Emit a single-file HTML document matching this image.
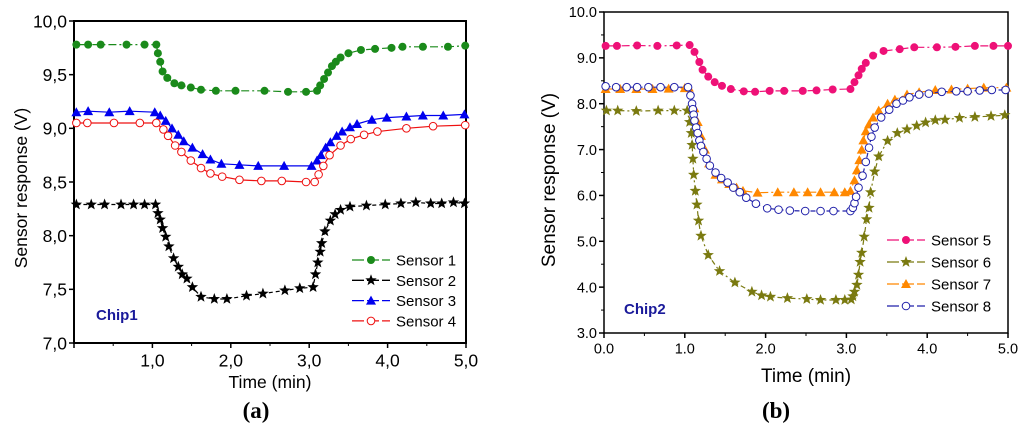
<!DOCTYPE html>
<html><head><meta charset="utf-8"><style>
body{margin:0;background:#fff;width:1024px;height:431px;overflow:hidden;font-family:"Liberation Sans",sans-serif}
svg text{font-family:"Liberation Sans",sans-serif}
</style></head><body>
<svg id="c" width="1024" height="431"></svg>
<script>
// ---- Chart (a) data ----
const s1t=[0.03,0.18,0.34,0.67,0.90,1.05,1.07,1.10,1.13,1.19,1.28,1.37,1.49,1.62,1.81,2.06,2.43,2.73,2.96,3.10,3.14,3.19,3.24,3.29,3.34,3.40,3.50,3.66,3.84,4.05,4.19,4.45,4.77,4.99];
const s1v=[9.78,9.78,9.78,9.78,9.78,9.78,9.70,9.62,9.53,9.47,9.42,9.40,9.38,9.36,9.35,9.35,9.35,9.34,9.34,9.35,9.40,9.46,9.52,9.58,9.62,9.66,9.70,9.73,9.74,9.75,9.76,9.76,9.76,9.77];
const s2t=[0.03,0.22,0.39,0.60,0.76,0.90,1.04,1.07,1.10,1.13,1.17,1.21,1.27,1.33,1.38,1.44,1.51,1.62,1.79,1.95,2.20,2.41,2.69,2.88,3.05,3.08,3.11,3.14,3.16,3.20,3.27,3.33,3.40,3.52,3.73,3.97,4.17,4.36,4.55,4.69,4.84,4.98];
const s2v=[8.29,8.29,8.29,8.29,8.29,8.29,8.29,8.21,8.15,8.07,7.99,7.90,7.79,7.71,7.64,7.60,7.52,7.43,7.41,7.41,7.44,7.46,7.49,7.51,7.52,7.64,7.75,7.85,7.93,8.04,8.14,8.20,8.24,8.27,8.28,8.29,8.30,8.31,8.30,8.30,8.31,8.30];
const s3t=[0.03,0.18,0.45,0.71,1.03,1.10,1.17,1.25,1.33,1.40,1.51,1.64,1.74,1.88,2.11,2.35,2.68,3.03,3.10,3.15,3.21,3.27,3.35,3.42,3.52,3.61,3.80,3.99,4.24,4.45,4.71,4.98];
const s3v=[9.15,9.16,9.15,9.16,9.15,9.12,9.07,9.00,8.94,8.88,8.82,8.76,8.71,8.67,8.66,8.65,8.65,8.65,8.70,8.75,8.82,8.87,8.93,8.97,9.01,9.04,9.08,9.10,9.11,9.12,9.12,9.13];
const s4t=[0.03,0.17,0.51,0.84,1.05,1.14,1.20,1.29,1.37,1.49,1.62,1.74,1.89,2.11,2.39,2.65,2.96,3.07,3.12,3.18,3.26,3.40,3.53,3.70,3.87,4.24,4.58,4.99];
const s4v=[9.05,9.05,9.05,9.05,9.05,8.99,8.93,8.84,8.78,8.70,8.63,8.58,8.55,8.52,8.51,8.51,8.50,8.50,8.57,8.65,8.75,8.84,8.90,8.94,8.97,9.00,9.02,9.03];
// ---- Chart (b) data ----
const s5t=[0.02,0.16,0.41,0.66,0.90,1.06,1.12,1.18,1.22,1.29,1.37,1.46,1.57,1.73,1.87,2.05,2.23,2.46,2.63,2.83,3.05,3.10,3.15,3.19,3.24,3.33,3.46,3.66,3.84,4.12,4.35,4.59,4.82,5.0];
const s5v=[9.26,9.26,9.27,9.26,9.27,9.28,9.13,8.91,8.74,8.59,8.47,8.39,8.32,8.27,8.26,8.28,8.28,8.28,8.29,8.31,8.32,8.47,8.62,8.76,8.89,9.05,9.15,9.19,9.23,9.23,9.24,9.26,9.26,9.26];
const s6t=[0.03,0.17,0.40,0.67,0.87,1.03,1.06,1.08,1.09,1.10,1.11,1.13,1.15,1.17,1.20,1.29,1.43,1.62,1.83,1.95,2.06,2.27,2.51,2.68,2.87,2.98,3.06,3.08,3.10,3.13,3.15,3.17,3.19,3.22,3.25,3.28,3.30,3.35,3.40,3.51,3.63,3.75,3.87,3.98,4.10,4.22,4.40,4.59,4.79,4.96];
const s6v=[7.85,7.85,7.84,7.85,7.85,7.85,7.60,7.36,7.10,6.80,6.45,6.10,5.80,5.45,5.12,4.70,4.35,4.10,3.90,3.82,3.79,3.76,3.74,3.72,3.72,3.72,3.73,3.80,3.90,4.05,4.27,4.55,4.75,5.10,5.48,5.73,6.07,6.52,6.85,7.19,7.36,7.44,7.52,7.59,7.64,7.65,7.69,7.71,7.73,7.75];
const s7t=[0.02,0.2,0.4,0.6,0.8,1.0,1.05,1.12,1.16,1.20,1.25,1.30,1.38,1.46,1.55,1.64,1.72,1.90,2.15,2.35,2.52,2.68,2.85,2.98,3.05,3.10,3.13,3.16,3.19,3.21,3.24,3.28,3.33,3.40,3.51,3.60,3.75,3.90,4.10,4.30,4.50,4.70,4.98];
const s7v=[8.32,8.32,8.32,8.32,8.33,8.34,8.35,7.9,7.6,7.3,7.0,6.7,6.45,6.35,6.25,6.17,6.10,6.06,6.07,6.07,6.07,6.07,6.07,6.07,6.10,6.33,6.55,6.77,7.00,7.20,7.40,7.55,7.70,7.85,8.00,8.09,8.20,8.25,8.30,8.31,8.33,8.35,8.35];
const s8t=[0.02,0.15,0.28,0.41,0.55,0.70,0.87,1.04,1.07,1.09,1.10,1.11,1.12,1.14,1.16,1.18,1.20,1.23,1.27,1.31,1.38,1.45,1.53,1.60,1.68,1.76,1.88,2.02,2.16,2.30,2.49,2.68,2.84,3.05,3.08,3.10,3.12,3.15,3.20,3.24,3.28,3.31,3.35,3.43,3.53,3.62,3.70,3.78,3.90,4.02,4.18,4.36,4.50,4.65,4.80,4.97];
const s8v=[8.38,8.36,8.36,8.36,8.36,8.36,8.36,8.36,8.18,8.00,7.88,7.76,7.63,7.48,7.36,7.20,7.08,6.95,6.80,6.65,6.50,6.38,6.28,6.17,6.07,5.95,5.82,5.72,5.69,5.67,5.66,5.66,5.66,5.66,5.73,5.83,5.97,6.17,6.43,6.73,7.04,7.28,7.48,7.70,7.87,8.00,8.07,8.14,8.20,8.22,8.26,8.27,8.27,8.29,8.30,8.30];
const yTicksA=["7,0","7,5","8,0","8,5","9,0","9,5","10,0"];
const xTicksA=["","1,0","2,0","3,0","4,0","5,0"];
const yTicksB=["3.0","4.0","5.0","6.0","7.0","8.0","9.0","10.0"];
const xTicksB=["0.0","1.0","2.0","3.0","4.0","5.0"];

const NS="http://www.w3.org/2000/svg";
const svg=document.getElementById('c');
function mk(tag,attrs,parent){const e=document.createElementNS(NS,tag);for(const k in attrs)e.setAttribute(k,attrs[k]);(parent||svg).appendChild(e);return e;}
function txt(s,attrs,parent){const e=mk('text',attrs,parent);e.textContent=s;return e;}
function star(cx,cy,r){let p=[];for(let i=0;i<10;i++){const a=-Math.PI/2+i*Math.PI/5;const rr=i%2?r*0.42:r;p.push((cx+rr*Math.cos(a)).toFixed(1)+','+(cy+rr*Math.sin(a)).toFixed(1));}return p.join(' ');}
function marker(g,type,x,y,col){
  if(type==='circle')return mk('circle',{cx:x,cy:y,r:4,fill:col},g);
  if(type==='ocircle')return mk('circle',{cx:x,cy:y,r:3.8,fill:'#fff',stroke:col,'stroke-width':1},g);
  if(type==='tri')return mk('polygon',{points:`${x},${y-5} ${x-5},${y+4} ${x+5},${y+4}`,fill:col},g);
  if(type==='star')return mk('polygon',{points:star(x,y,6),fill:col},g);
}
function chart(o){
  const X=t=>o.x0+(t-o.xmin)/(o.xmax-o.xmin)*(o.x1-o.x0);
  const Y=v=>o.y1-(v-o.ymin)/(o.ymax-o.ymin)*(o.y1-o.y0);
  const g=mk('g',{});
  
  
  const pa=mk('rect',{x:o.x0,y:o.y0,width:o.x1-o.x0,height:o.y1-o.y0,fill:'none',stroke:'#000','stroke-width':o.sw},g);
  
  o.yT.forEach((s,i)=>{const v=o.ymin+i*o.ystep;const y=Y(v);
    mk('line',{x1:o.x0-5,x2:o.x0,y1:y,y2:y,stroke:'#000','stroke-width':1.5},g);
    if(o.minor&&i<o.yT.length-1){const ym=Y(v+o.ystep/2);mk('line',{x1:o.x0-3,x2:o.x0,y1:ym,y2:ym,stroke:'#000'},g);}
    const t=txt(s,{x:o.x0-7,y:y+o.fs*0.36,'font-size':o.fs,'text-anchor':'end',fill:'#000'},g);
    });
  o.xT.forEach((s,i)=>{const x=X(i);
    mk('line',{x1:x,x2:x,y1:o.y1,y2:o.y1+5,stroke:'#000','stroke-width':1.5},g);
    if(i<o.xT.length-1){const xm=X(i+0.5);mk('line',{x1:xm,x2:xm,y1:o.y1,y2:o.y1+3,stroke:'#000'},g);}
    if(s){const t=txt(s,{x:x,y:o.y1+o.fs+6,'font-size':o.fs,'text-anchor':'middle',fill:'#000'},g);
    }});
  const xt=txt('Time (min)',{x:(o.x0+o.x1)/2,y:o.xty,'font-size':o.tfs,'text-anchor':'middle'},g);
  
  const yt=txt('Sensor response (V)',{x:0,y:0,'font-size':o.tfs,'text-anchor':'middle',transform:`translate(${o.ytx},${o.ytc}) rotate(-90)`},g);
  
  o.series.forEach(s=>{
    const sg=mk('g',{},g);
    
    
    mk('polyline',{points:s.t.map((t,i)=>X(t).toFixed(1)+','+Y(s.v[i]).toFixed(1)).join(' '),fill:'none',stroke:s.col,'stroke-width':1.2,'stroke-dasharray':s.dash||'none'},sg);
    s.t.forEach((t,i)=>marker(sg,s.m,X(t),Y(s.v[i]),s.col));
  });
  const lg=mk('g',{},g);
  
  o.series.forEach((s,i)=>{const y=o.ly+i*o.lstep;
    const e=mk('g',{},lg);
    mk('line',{x1:o.lx,x2:o.lx+38,y1:y,y2:y,stroke:s.col,'stroke-width':1.3,'stroke-dasharray':'12,3'},e);
    marker(e,s.m,o.lx+19,y,s.col);
    txt(s.label,{x:o.lx+44,y:y+5.5,'font-size':15},e);});
  const ch=txt(o.chip,{x:o.cx,y:o.cy,'font-size':15,'font-weight':'bold',fill:'#1a1a9a'},g);
  
  const pl=txt(o.panel,{x:o.px,y:418,'font-size':23,'font-weight':'bold','text-anchor':'middle'},g);
  pl.style.fontFamily='"Liberation Serif",serif';
  
}
chart({name:'chart-a',x0:74,x1:466,y0:21,y1:343,sw:2,xmin:0,xmax:5,ymin:7,ymax:10,ystep:0.5,yT:yTicksA,xT:xTicksA,fs:17.5,tfs:17.5,xty:388,ytx:27,ytc:188,
  lx:352,ly:260,lstep:20.3,cx:96,cy:320,chip:'Chip1',panel:'(a)',px:256,
  series:[{label:'Sensor 1',t:s1t,v:s1v,col:'#1a8a1a',m:'circle',dash:'8,3,2,3'},
          {label:'Sensor 2',t:s2t,v:s2v,col:'#000',m:'star',dash:'4,3'},
          {label:'Sensor 3',t:s3t,v:s3v,col:'#0000ee',m:'tri'},
          {label:'Sensor 4',t:s4t,v:s4v,col:'#ee1111',m:'ocircle'}]});
chart({name:'chart-b',x0:604,x1:1008,y0:12,y1:333,sw:1.5,xmin:0,xmax:5,ymin:3,ymax:10,ystep:1,yT:yTicksB,xT:xTicksB,fs:14.5,tfs:19,xty:382,ytx:555,ytc:180,minor:true,
  lx:887,ly:240,lstep:22,cx:624,cy:314,chip:'Chip2',panel:'(b)',px:776,
  series:[{label:'Sensor 5',t:s5t,v:s5v,col:'#ee1177',m:'circle',dash:'8,3,2,3'},
          {label:'Sensor 6',t:s6t,v:s6v,col:'#7a7a10',m:'star',dash:'5,3,2,3'},
          {label:'Sensor 7',t:s7t,v:s7v,col:'#ff8800',m:'tri',dash:'8,3,2,3'},
          {label:'Sensor 8',t:s8t,v:s8v,col:'#2222aa',m:'ocircle',dash:'5,3'}]});
</script>
</body></html>
